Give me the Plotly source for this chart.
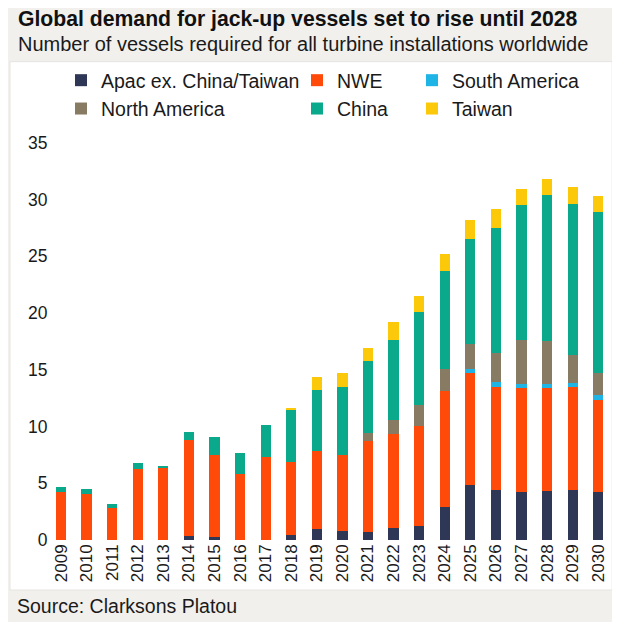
import plotly.graph_objects as go

years = [str(y) for y in range(2009, 2031)]

apac = [0, 0, 0, 0, 0, 0.35, 0.3, 0, 0, 0.45, 0.95, 0.8, 0.7, 1.1, 1.2, 2.9, 4.85, 4.4, 4.2, 4.3, 4.4, 4.2]
nwe = [4.2, 4.05, 2.8, 6.25, 6.4, 8.45, 7.2, 5.8, 7.3, 6.45, 6.85, 6.7, 8.0, 8.25, 8.8, 10.2, 9.85, 9.1, 9.2, 9.1, 9.1, 8.15]
south_america = [0, 0, 0, 0, 0, 0, 0, 0, 0, 0, 0, 0, 0, 0, 0, 0, 0.35, 0.4, 0.35, 0.35, 0.35, 0.4]
north_america = [0, 0, 0, 0, 0, 0, 0, 0, 0, 0, 0, 0, 0.7, 1.25, 1.85, 2.0, 2.25, 2.6, 3.85, 3.75, 2.45, 1.95]
china = [0.45, 0.45, 0.4, 0.5, 0.15, 0.75, 1.6, 1.9, 2.8, 4.6, 5.4, 6.0, 6.4, 7.0, 8.25, 8.6, 9.2, 10.95, 11.9, 12.9, 13.3, 14.2]
taiwan = [0, 0, 0, 0, 0, 0, 0, 0, 0, 0.15, 1.2, 1.2, 1.1, 1.6, 1.4, 1.5, 1.7, 1.7, 1.4, 1.4, 1.5, 1.4]

y_ticks = [0, 5, 10, 15, 20, 25, 30, 35]

series = [
    ("Apac ex. China/Taiwan", apac, "#2e3856", "legend"),
    ("NWE", nwe, "#ff4a0a", "legend2"),
    ("South America", south_america, "#1fb4e6", "legend3"),
    ("North America", north_america, "#887b63", "legend"),
    ("China", china, "#0aa98b", "legend2"),
    ("Taiwan", taiwan, "#fbc80a", "legend3"),
]

FONT = "Liberation Sans, Arial, sans-serif"
W, H = 620, 622
L, R, T, B = 44, 17.2, 129.3, 90
CAT_PX = 25.57
x_lo = -(53 - L) / CAT_PX
x_hi = (len(years) - 1) + ((W - R) - 590) / CAT_PX


def px(x):
    return (x - L) / (W - L - R)


def py(y):
    return (H - B - y) / (H - T - B)


fig = go.Figure()
for name, vals, color, lg in series:
    fig.add_trace(go.Bar(x=years, y=vals, name=name, marker=dict(color=color, line=dict(width=0)),
                         legend=lg))

legend_common = dict(
    orientation="v", xref="container", yref="container", xanchor="left", yanchor="top",
    font=dict(family=FONT, size=19.5, color="#1a1a1a"), bgcolor="rgba(0,0,0,0)",
    traceorder="normal", itemwidth=30, tracegroupgap=0,
)

fig.update_layout(
    width=W, height=H,
    paper_bgcolor="#f2f0ed", plot_bgcolor="#ffffff",
    barmode="stack", bargap=0.6,
    margin=dict(l=L, r=R, t=T, b=B, autoexpand=False),
    font=dict(family=FONT, size=17, color="#1a1a1a"),
    xaxis=dict(type="category", range=[x_lo, x_hi], tickangle=-90,
               tickfont=dict(size=17, color="#1a1a1a"),
               showgrid=False, showline=False, ticks="", zeroline=False),
    yaxis=dict(range=[0, 35.5], tickvals=y_ticks, tickfont=dict(size=17.5, color="#1a1a1a"),
               showgrid=False, zeroline=False, showline=False, ticks="outside", ticklen=0,
               tickcolor="rgba(0,0,0,0)", ticklabelstandoff=0),
    legend=dict(x=53 / W, y=1 - 53 / H, **legend_common),
    legend2=dict(x=289 / W, y=1 - 53 / H, **legend_common),
    legend3=dict(x=404 / W, y=1 - 53 / H, **legend_common),
    shapes=[dict(type="rect", xref="paper", yref="paper", layer="below",
                 x0=px(2), x1=px(604), y0=py(582), y1=py(54),
                 fillcolor="#ffffff", line=dict(width=1, color="#e6e4e0"))],
    annotations=[
        dict(text="<b>Global demand for jack-up vessels set to rise until 2028</b>",
             xref="paper", yref="paper", x=px(8), y=py(11), xanchor="left", yanchor="middle",
             showarrow=False, font=dict(size=21.2, color="#111")),
        dict(text="Number of vessels required for all turbine installations worldwide",
             xref="paper", yref="paper", x=px(8), y=py(36), xanchor="left", yanchor="middle",
             showarrow=False, font=dict(size=20, color="#1a1a1a")),
        dict(text="Source: Clarksons Platou",
             xref="paper", yref="paper", x=px(7), y=py(598), xanchor="left", yanchor="middle",
             showarrow=False, font=dict(size=19.5, color="#1a1a1a")),
    ],
)

fig.write_html("out.html")
